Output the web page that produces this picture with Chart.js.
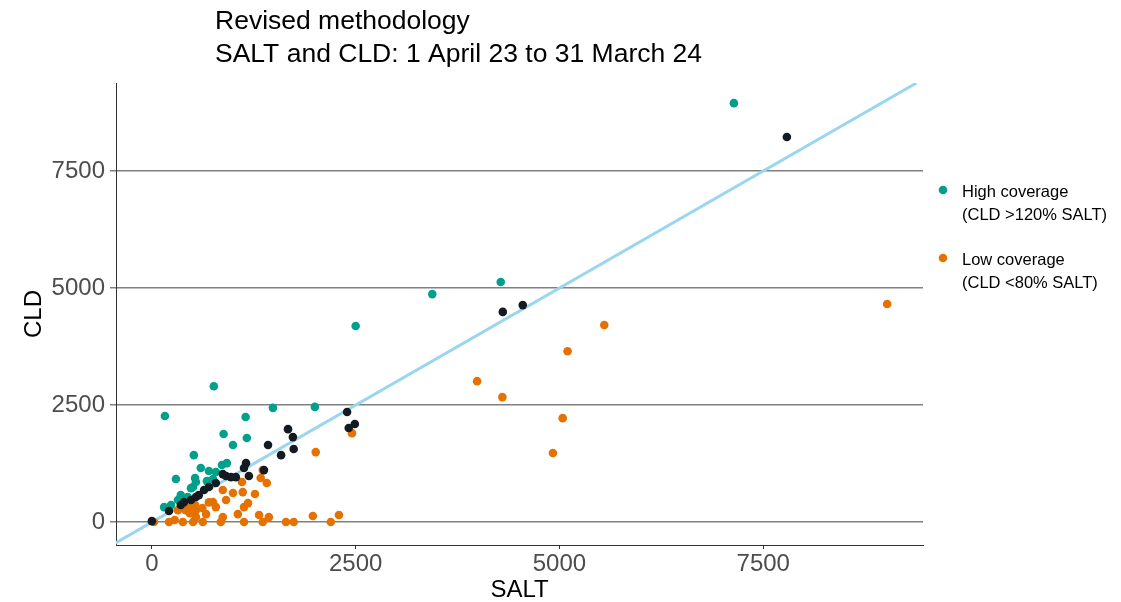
<!DOCTYPE html>
<html>
<head>
<meta charset="utf-8">
<script src="https://cdn.jsdelivr.net/npm/chart.js@4"></script>
<style>
  html, body { margin: 0; padding: 0; background: #fff; }
  #wrap { width: 1121px; height: 602px; }
</style>
</head>
<body>
<div id="wrap"><canvas id="chart" width="1121" height="602"></canvas></div>
<script>
// values, [SALT, CLD]
const highCoverage = [
  [7140, 8950], [4280, 5130], [3440, 4870], [2500, 4190], [2000, 2460], [1485, 2440],
  [760, 2900], [160, 2265], [1150, 2245], [880, 1880], [1165, 1795], [995, 1645],
  [515, 1430], [600, 1155], [700, 1090], [785, 1070], [860, 1220], [920, 1260],
  [295, 920], [530, 940], [675, 875], [750, 920], [480, 725], [505, 750],
  [355, 575], [320, 470], [150, 320], [235, 365], [440, 535], [540, 855]
];
const lowCoverage = [
  [9020, 4660], [5550, 4210], [5100, 3650], [3990, 3010], [4300, 2670], [5040, 2220],
  [4920, 1475], [2455, 1900], [2010, 1495], [1975, 130], [2295, 150], [2195, 0],
  [1335, 940], [1410, 835], [1105, 855], [870, 685], [995, 620], [1115, 640],
  [910, 470], [1265, 600], [750, 425], [785, 320], [1180, 405], [1130, 320],
  [530, 365], [480, 320], [540, 255], [415, 255], [320, 255], [665, 170],
  [540, 105], [870, 105], [1055, 170], [1315, 150], [1435, 105], [1360, 1110],
  [25, 0], [210, 0], [380, 0], [505, 0], [625, 0], [845, 0], [1130, 0],
  [1360, 0], [1645, 0], [1740, 0], [280, 45], [465, 190], [620, 300], [700, 420]
];
const otherLAs = [
  [7790, 8225], [4305, 4490], [4550, 4635], [2395, 2350], [2490, 2095], [2415, 2010],
  [1670, 1985], [1730, 1815], [1740, 1560], [1585, 1430], [1425, 1645], [1375, 1110],
  [1155, 1260], [1130, 1155], [1190, 985], [1030, 960], [970, 960], [910, 985],
  [870, 1025], [785, 835], [700, 750], [640, 685], [575, 575], [540, 535],
  [480, 470], [395, 425], [355, 365], [210, 235], [0, 20]
];
const ticksValues = [0, 2500, 5000, 7500];
const xRange = [-440, 9460];
const yRange = [-490, 9380];
const titleLines = ['Revised methodology', 'SALT and CLD: 1 April 23 to 31 March 24'];
const legendItems = [
  { label: ['High coverage', '(CLD >120% SALT)'], color: '#00a08a' },
  { label: ['Low coverage', '(CLD <80% SALT)'], color: '#e57200' }
];

const toPts = (arr) => arr.map(([x, y]) => ({ x, y }));
const FONT = "'Liberation Sans', Arial, sans-serif";

const decor = {
  id: 'decor',
  afterDraw(chart) {
    const ctx = chart.ctx;
    const area = chart.chartArea;
    ctx.save();
    ctx.fillStyle = '#000';
    ctx.textAlign = 'left';
    ctx.textBaseline = 'alphabetic';
    ctx.font = '26.5px ' + FONT;
    ctx.fillText(titleLines[0], 215, 29);
    ctx.fillText(titleLines[1], 215, 62);

    // axis titles
    ctx.font = '24px ' + FONT;
    ctx.textAlign = 'center';
    ctx.fillText('SALT', (area.left + area.right) / 2, 597);
    ctx.translate(41, (area.top + area.bottom) / 2);
    ctx.rotate(-Math.PI / 2);
    ctx.fillText('CLD', 0, 0);
    ctx.restore();

    // legend
    ctx.save();
    ctx.font = '16.5px ' + FONT;
    ctx.textAlign = 'left';
    ctx.textBaseline = 'alphabetic';
    legendItems.forEach((item, i) => {
      const y0 = 190 + i * 68;
      ctx.fillStyle = item.color;
      ctx.beginPath();
      ctx.arc(943, y0, 4.3, 0, Math.PI * 2);
      ctx.fill();
      ctx.fillStyle = '#000';
      ctx.fillText(item.label[0], 962, y0 + 7);
      ctx.fillText(item.label[1], 962, y0 + 30);
    });
    ctx.restore();
  }
};

new Chart(document.getElementById('chart').getContext('2d'), {
  type: 'scatter',
  data: {
    datasets: [
      {
        type: 'line',
        label: 'Parity',
        data: [{ x: yRange[0], y: yRange[0] }, { x: yRange[1], y: yRange[1] }],
        borderColor: '#9ad6ef',
        borderWidth: 3,
        pointRadius: 0,
        fill: false,
        order: 4
      },
      {
        label: 'High coverage',
        data: toPts(highCoverage),
        backgroundColor: '#00a08a',
        borderWidth: 0,
        pointRadius: 4.3,
        order: 3
      },
      {
        label: 'Low coverage',
        data: toPts(lowCoverage),
        backgroundColor: '#e57200',
        borderWidth: 0,
        pointRadius: 4.3,
        order: 2
      },
      {
        label: 'Other',
        data: toPts(otherLAs),
        backgroundColor: '#141a22',
        borderWidth: 0,
        pointRadius: 4.3,
        order: 1
      }
    ]
  },
  options: {
    responsive: false,
    animation: false,
    layout: { padding: { top: 83, right: 198, left: 0, bottom: 0 } },
    plugins: {
      legend: { display: false },
      tooltip: { enabled: false },
      title: { display: false }
    },
    scales: {
      x: {
        type: 'linear',
        min: xRange[0],
        max: xRange[1],
        afterBuildTicks: (s) => { s.ticks = ticksValues.map((v) => ({ value: v })); },
        afterFit: (s) => { s.height = 57; },
        grid: { display: true, drawOnChartArea: false, drawTicks: true, tickLength: 4, color: '#333' },
        border: { display: true, color: '#333', width: 1 },
        ticks: { color: '#4d4d4d', font: { size: 24, family: FONT }, padding: 1, maxRotation: 0,
          callback: (v) => String(v) }
      },
      y: {
        type: 'linear',
        min: yRange[0],
        max: yRange[1],
        afterBuildTicks: (s) => { s.ticks = ticksValues.map((v) => ({ value: v })); },
        afterFit: (s) => { s.width = 116; },
        grid: { color: '#808080', lineWidth: 1.5, tickLength: 6 },
        border: { display: true, color: '#333', width: 1 },
        ticks: { color: '#4d4d4d', font: { size: 24, family: FONT }, padding: 5,
          callback: (v) => String(v) }
      }
    }
  },
  plugins: [decor]
});
</script>
</body>
</html>
